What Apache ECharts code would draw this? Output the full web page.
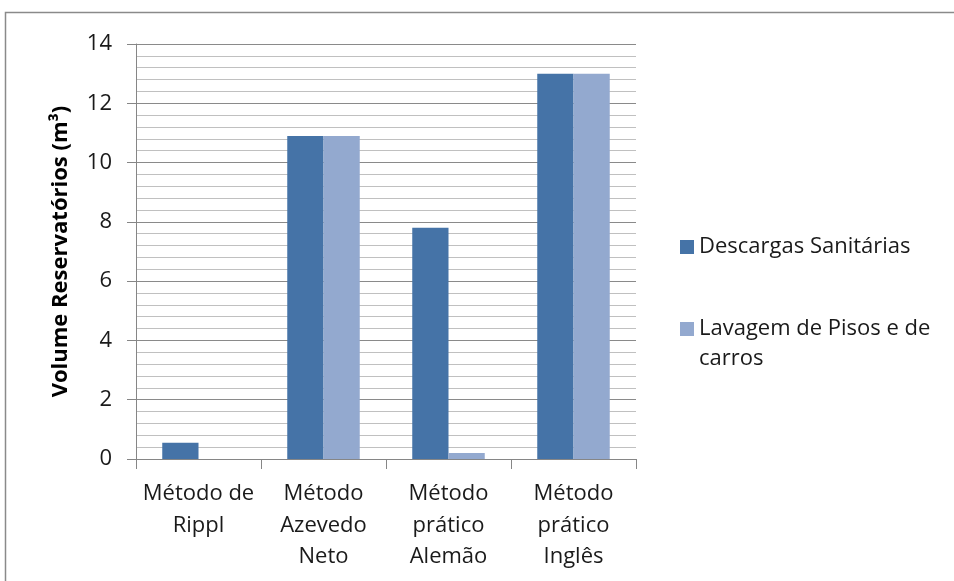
<!DOCTYPE html>
<html>
<head>
<meta charset="utf-8">
<script src="https://cdn.jsdelivr.net/npm/echarts@6/dist/echarts.min.js"></script>
<style>
  html, body { margin: 0; padding: 0; background: #fff; }
  #chart { width: 954px; height: 581px; }
</style>
</head>
<body>
<div id="chart"></div>
<script>
// Reservoir volumes (m³) by sizing method
const categories = ['Método de\nRippl', 'Método\nAzevedo\nNeto', 'Método\nprático\nAlemão', 'Método\nprático\nInglês'];
const seriesNames = ['Descargas Sanitárias', 'Lavagem de Pisos e de carros'];
const descargas = [0.55, 10.9, 7.8, 13.0];
const lavagem = [0, 10.9, 0.2, 13.0];
const yTicks = { min: 0, max: 14, interval: 2 };

const FONT = '"Open Sans", "Noto Sans", sans-serif';

// Legend labels: the long name wraps; a blank leading line keeps the
// swatch level with the first line of wrapped text.
const legendLabels = {
  'Descargas Sanitárias': 'Descargas Sanitárias',
  'Lavagem de Pisos e de carros': ' \nLavagem de Pisos e de\ncarros'
};

const chart = echarts.init(document.getElementById('chart'), null, { renderer: 'canvas' });
chart.setOption({
  backgroundColor: '#ffffff',
  animation: false,
  graphic: [{
    type: 'rect',
    shape: { x: 5.5, y: 12.5, width: 960, height: 600 },
    style: { fill: 'none', stroke: '#8a8a8a', lineWidth: 1.5 },
    silent: true
  }],
  grid: { left: 136, right: 318, top: 44, bottom: 122, containLabel: false },
  legend: {
    orient: 'vertical',
    left: 675,
    top: 227,
    itemWidth: 14,
    itemHeight: 14,
    itemGap: 22,
    icon: 'rect',
    data: seriesNames,
    formatter: function (name) { return legendLabels[name]; },
    textStyle: {
      fontFamily: FONT,
      fontSize: 22,
      color: '#1a1a1a',
      lineHeight: 30
    }
  },
  xAxis: {
    type: 'category',
    data: categories,
    axisLine: { lineStyle: { color: '#868686', width: 1 } },
    axisTick: { show: true, alignWithLabel: false, length: 10, lineStyle: { color: '#868686' } },
    axisLabel: {
      fontFamily: FONT,
      fontSize: 22,
      color: '#1a1a1a',
      lineHeight: 31.5,
      margin: 19,
      interval: 0
    }
  },
  yAxis: {
    type: 'value',
    min: yTicks.min,
    max: yTicks.max,
    interval: yTicks.interval,
    name: 'Volume Reservatórios (m³)',
    nameLocation: 'middle',
    nameGap: 64,
    nameRotate: 90,
    nameTextStyle: { fontFamily: FONT, fontSize: 22, fontWeight: 'bold', color: '#000' },
    axisLine: { show: true, lineStyle: { color: '#868686', width: 1 } },
    axisTick: { show: true, length: 9, lineStyle: { color: '#868686' } },
    axisLabel: { fontFamily: FONT, fontSize: 22, color: '#1a1a1a', margin: 24 },
    splitLine: { show: true, lineStyle: { color: '#8a8a8a', width: 1 } },
    minorTick: { show: false, splitNumber: 5 },
    minorSplitLine: { show: true, lineStyle: { color: '#c0c0c0', width: 1 } }
  },
  series: [
    {
      name: seriesNames[0],
      type: 'bar',
      data: descargas,
      barGap: '0%',
      barCategoryGap: '42%',
      itemStyle: { color: '#4573A7' }
    },
    {
      name: seriesNames[1],
      type: 'bar',
      data: lavagem,
      barGap: '0%',
      barCategoryGap: '42%',
      itemStyle: { color: '#93A9CF' }
    }
  ]
});
</script>
</body>
</html>
